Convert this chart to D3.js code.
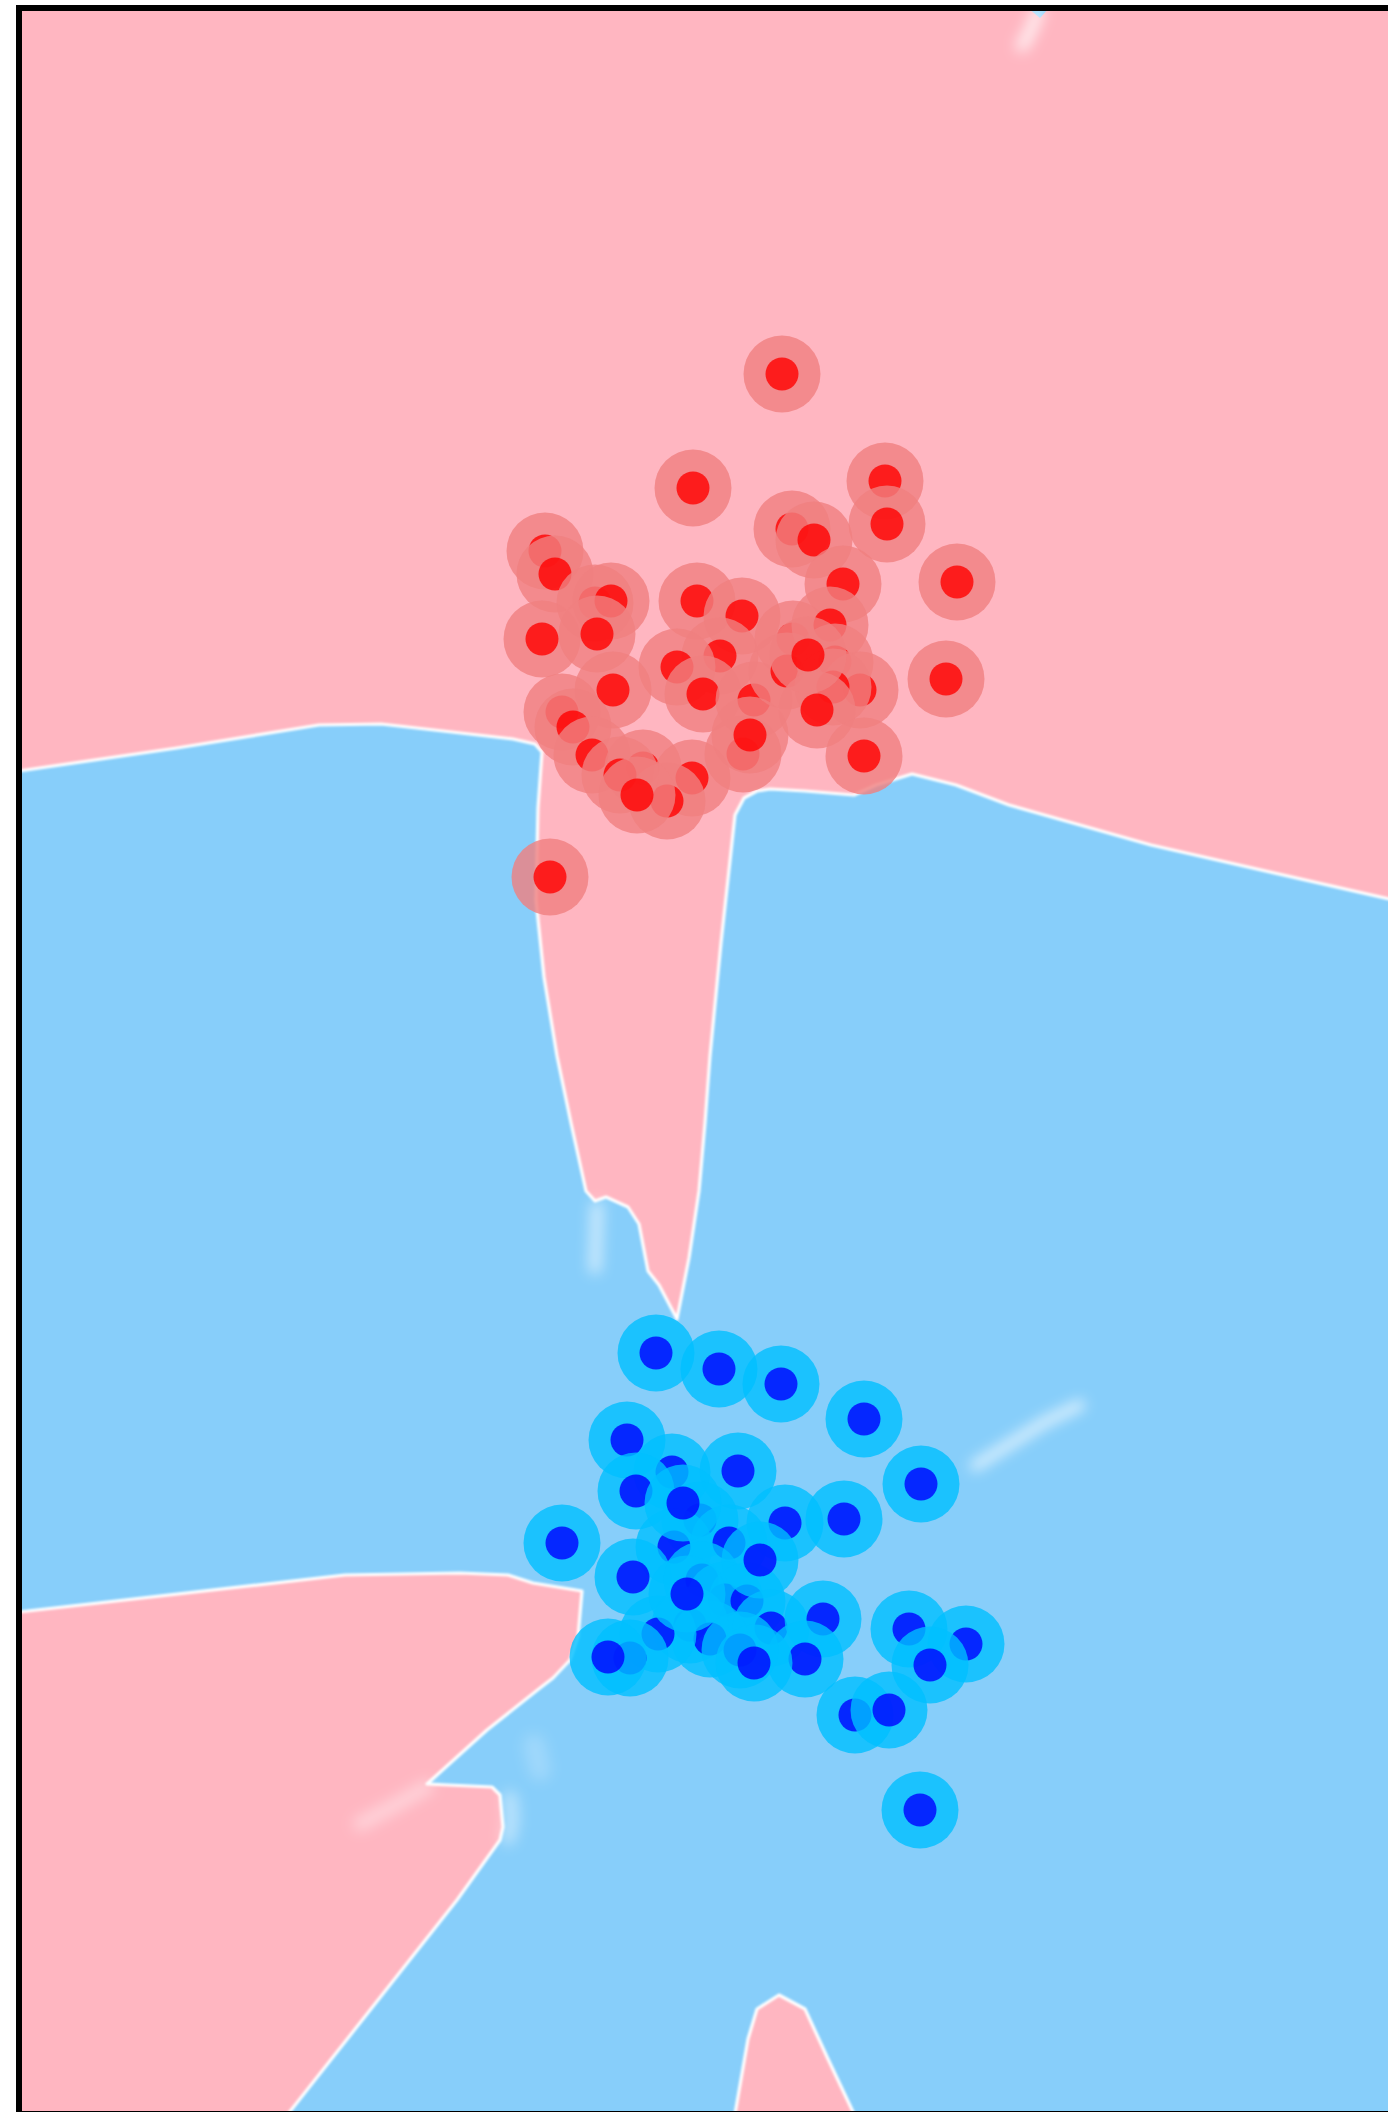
<!DOCTYPE html>
<html>
<head>
<meta charset="utf-8">
<script src="https://cdn.jsdelivr.net/npm/d3@7"></script>
<style>
  html, body { margin: 0; padding: 0; background: #ffffff; }
  svg { display: block; }
</style>
</head>
<body>
<svg id="chart" width="1388" height="2112"></svg>
<script>
// Class 0 samples (red)
const redX = [0.82, -0.07, 1.85, 1.87, 0.92, 1.14, 1.43, 2.57, -1.55, -1.45,
              -1.05, -0.89, -1.58, -1.03, -0.03, 0.42, 0.20, -0.23, 0.03, 0.54,
              0.93, 0.87, 1.30, 1.35, 1.60, 1.33, 1.17, 1.64, 2.46, -0.87,
              -1.38, -1.27, -1.08, -0.57, -0.08, -0.33, 0.43, -1.50, -0.80, -0.63,
              0.50, 1.08];
const redY = [6.86, 5.72, 5.79, 5.36, 5.31, 5.20, 4.76, 4.78, 5.09, 4.86,
              4.57, 4.59, 4.21, 4.26, 4.59, 4.44, 4.04, 3.93, 3.66, 3.60,
              4.21, 3.89, 4.35, 3.98, 3.70, 3.73, 3.50, 3.04, 3.81, 3.70,
              3.48, 3.33, 3.05, 2.92, 2.82, 2.59, 3.06, 1.83, 2.85, 2.65,
              3.25, 4.05];

// Class 1 samples (blue)
const blueX = [-0.44, 0.19, 0.81, 1.64, 2.21, -0.73, -0.28, 0.38, -0.64, -1.38,
               0.00, -0.26, 0.29, 0.85, 1.44, -0.67, 0.02, -0.17, 0.25, 0.47,
               0.60, 0.71, 1.23, 2.09, 2.66, 2.30, 1.05, -0.10, 0.10, -0.42,
               -0.70, -0.92, 0.40, 0.54, 1.55, 1.89, 2.20, -0.13];
const blueY = [-2.93, -3.09, -3.24, -3.59, -4.24, -3.80, -4.12, -4.11, -4.31, -4.83,
               -4.60, -4.87, -4.83, -4.63, -4.59, -5.17, -5.20, -4.43, -5.40, -5.41,
               -5.00, -5.68, -5.59, -5.69, -5.84, -6.05, -5.99, -5.65, -5.79, -5.74,
               -5.98, -5.97, -5.90, -6.03, -6.55, -6.50, -7.50, -5.34];

// Decision boundary between the upper class-0 region and class-1 region (left to right)
const upperBoundary = [
  [-6.81, 2.89], [-5.23, 3.12], [-3.81, 3.35], [-3.19, 3.36], [-2.57, 3.29],
  [-1.87, 3.21], [-1.65, 3.16], [-1.58, 3.08], [-1.62, 2.52], [-1.64, 1.60],
  [-1.56, 0.83], [-1.43, 0.04], [-1.29, -0.63], [-1.14, -1.31], [-1.05, -1.41],
  [-0.94, -1.37], [-0.72, -1.47], [-0.61, -1.64], [-0.52, -2.11], [-0.41, -2.25],
  [-0.23, -2.59], [-0.11, -1.98], [-0.01, -1.31], [0.05, -0.63], [0.10, 0.04],
  [0.21, 1.17], [0.35, 2.45], [0.44, 2.62], [0.57, 2.69], [0.70, 2.71],
  [1.05, 2.69], [1.54, 2.65], [1.76, 2.75], [2.12, 2.86], [2.56, 2.75],
  [3.09, 2.55], [4.51, 2.15], [7.20, 1.54]
];

// Lower-left class-0 region boundary
const lowerLeftBoundary = [
  [-6.81, -5.52], [-3.55, -5.15], [-2.40, -5.13], [-1.92, -5.15], [-1.67, -5.23],
  [-1.18, -5.31], [-1.22, -5.77], [-1.30, -6.00], [-1.47, -6.18], [-1.60, -6.28],
  [-2.13, -6.70], [-2.73, -7.24], [-2.08, -7.27], [-2.00, -7.35], [-1.97, -7.67],
  [-2.00, -7.80], [-2.43, -8.40], [-4.12, -10.54]
];

// Small class-0 wedge at the bottom
const bottomWedge = [
  [0.35, -10.54], [0.48, -9.79], [0.57, -9.49], [0.79, -9.35], [1.05, -9.49],
  [1.28, -9.99], [1.54, -10.54]
];

// Thin class-1 sliver at the top edge
const topSliver = [[3.28, 10.52], [3.49, 10.52], [3.40, 10.42]];

// Faint low-confidence ridges
const softRidges = [
  { pts: [[3.38, 10.48], [3.30, 10.28], [3.22, 10.14]], w: 12, o: 0.8 },
  { pts: [[2.75, -4.06], [3.10, -3.84], [3.45, -3.62], [3.80, -3.45]], w: 10, o: 0.75 },
  { pts: [[-1.03, -1.47], [-1.04, -1.80], [-1.05, -2.08]], w: 12, o: 0.6 },
  { pts: [[-2.73, -7.27], [-3.10, -7.48], [-3.40, -7.64]], w: 14, o: 0.4 },
  { pts: [[-1.90, -7.38], [-1.88, -7.60], [-1.92, -7.78]], w: 14, o: 0.45 },
  { pts: [[-1.66, -6.85], [-1.60, -7.10]], w: 22, o: 0.2 }
];

const xDomain = [-6.81, 7.20];
const yDomain = [-10.54, 10.52];

const PINK = "#FFB6C1";
const SKY = "#87CEFA";

const svg = d3.select("#chart");
const x = d3.scaleLinear().domain(xDomain).range([19, 1420]);
const y = d3.scaleLinear().domain(yDomain).range([2114, 8]);

const defs = svg.append("defs");
defs.append("clipPath").attr("id", "plot-clip")
  .append("rect")
  .attr("x", x(xDomain[0]) + 3).attr("y", y(yDomain[1]) + 3)
  .attr("width", x(xDomain[1]) - x(xDomain[0]) - 3)
  .attr("height", y(yDomain[0]) - y(yDomain[1]) - 3);

function blurFilter(id, sd) {
  defs.append("filter").attr("id", id)
    .attr("filterUnits", "userSpaceOnUse")
    .attr("x", -100).attr("y", -100).attr("width", 1700).attr("height", 2400)
    .append("feGaussianBlur").attr("stdDeviation", sd);
}
blurFilter("edge-blur", 1.2);
blurFilter("soft-blur", 7);

const plot = svg.append("g").attr("clip-path", "url(#plot-clip)");

// class-1 background
plot.append("rect")
  .attr("x", x(xDomain[0])).attr("y", y(yDomain[1]))
  .attr("width", x(xDomain[1]) - x(xDomain[0]))
  .attr("height", y(yDomain[0]) - y(yDomain[1]))
  .attr("fill", SKY);

const line = d3.line().x(d => x(d[0])).y(d => y(d[1]));

// class-0 regions
const upperRegion = upperBoundary.concat([[xDomain[1], yDomain[1]], [xDomain[0], yDomain[1]]]);
const lowerLeftRegion = lowerLeftBoundary.concat([[xDomain[0], yDomain[0]]]);

plot.selectAll("path.region")
  .data([upperRegion, lowerLeftRegion, bottomWedge])
  .join("path")
  .attr("class", "region")
  .attr("d", d => line(d) + "Z")
  .attr("fill", PINK);

plot.append("path")
  .attr("d", line(topSliver) + "Z")
  .attr("fill", SKY);

// boundary lines
plot.selectAll("path.boundary")
  .data([upperBoundary, lowerLeftBoundary, bottomWedge])
  .join("path")
  .attr("class", "boundary")
  .attr("d", d => line(d))
  .attr("fill", "none")
  .attr("stroke", "#ffffff")
  .attr("stroke-width", 3.2)
  .attr("stroke-linejoin", "round")
  .attr("filter", "url(#edge-blur)");

plot.selectAll("path.ridge")
  .data(softRidges)
  .join("path")
  .attr("class", "ridge")
  .attr("d", d => line(d.pts))
  .attr("fill", "none")
  .attr("stroke", "#ffffff")
  .attr("stroke-width", d => d.w)
  .attr("stroke-opacity", d => d.o)
  .attr("stroke-linecap", "round")
  .attr("filter", "url(#soft-blur)");

// samples: halo then core, point by point
const OUTER_R = 38.5, INNER_R = 16.5;
function drawClass(xs, ys, halo, core) {
  const pts = xs.map((v, i) => [v, ys[i]]);
  const g = plot.append("g").selectAll("g").data(pts).join("g");
  g.append("circle")
    .attr("cx", d => x(d[0])).attr("cy", d => y(d[1]))
    .attr("r", OUTER_R).attr("fill", halo).attr("fill-opacity", 0.8);
  g.append("circle")
    .attr("cx", d => x(d[0])).attr("cy", d => y(d[1]))
    .attr("r", INNER_R).attr("fill", core).attr("fill-opacity", 0.8);
}
drawClass(redX, redY, "lightcoral", "red");
drawClass(blueX, blueY, "deepskyblue", "blue");

// axes frame
svg.append("rect")
  .attr("x", x(xDomain[0])).attr("y", y(yDomain[1]))
  .attr("width", x(xDomain[1]) - x(xDomain[0]))
  .attr("height", y(yDomain[0]) - y(yDomain[1]))
  .attr("fill", "none")
  .attr("stroke", "#000000")
  .attr("stroke-width", 6);
</script>
</body>
</html>
